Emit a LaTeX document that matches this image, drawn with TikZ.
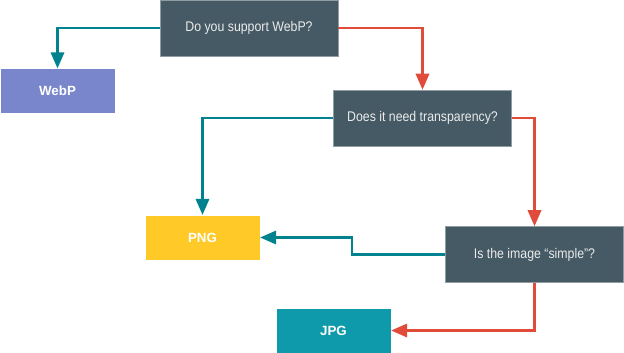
\documentclass[tikz,border=0pt]{standalone}
\usepackage{fontspec}
\setmainfont{Liberation Sans}
\newfontfamily\qfont[FakeStretch=0.88,Ligatures=TeX]{Liberation Sans}
\usetikzlibrary{arrows.meta,positioning}
\definecolor{slate}{HTML}{455A64}
\definecolor{webpblue}{HTML}{7986CB}
\definecolor{pngyellow}{HTML}{FFCA28}
\definecolor{jpgteal}{HTML}{0E9AAB}
\definecolor{yesteal}{HTML}{00838F}
\definecolor{nored}{HTML}{E04B3A}
\begin{document}
\begin{tikzpicture}[x=0.75pt,y=-0.75pt,>={Triangle[length=12pt,width=10pt]},
question/.style={fill=slate,draw=slate!60!white,line width=0.4pt,text=white!92!black,minimum width=133.5pt,minimum height=42pt,inner sep=0pt,font=\qfont\fontsize{10.5}{12}\selectfont},
answer/.style={draw=white,line width=0.4pt,text=white,minimum width=86pt,minimum height=33.5pt,inner sep=0pt,font=\fontsize{10}{12}\selectfont\bfseries},
yes/.style={->,draw=yesteal,line width=1.7pt},
no/.style={->,draw=nored,line width=1.7pt}]
\useasboundingbox (0,0) rectangle (624,353);
\node[question] (support) at (249,28) {Do you support WebP?};
\node[answer,fill=webpblue] (webp) at (57.5,91) {WebP};
\node[question] (alpha) at (422.5,118) {Does it need transparency?};
\node[answer,fill=pngyellow] (png) at (202.5,237.5) {PNG};
\node[question] (simple) at (534.5,254.5) {Is the image “simple”?};
\node[answer,fill=jpgteal] (jpg) at (333.5,330.5) {JPG};
\draw[yes] (support.west) -| (webp.north);
\draw[no] (support.east) -| (alpha.north);
\draw[yes] (alpha.west) -| (png.north);
\draw[no] (alpha.east) -| (simple.north);
\draw[yes] (simple.west) -- ++(-93,0) |- (png.east);
\draw[no] (simple.south) |- (jpg.east);
\end{tikzpicture}
\end{document}
